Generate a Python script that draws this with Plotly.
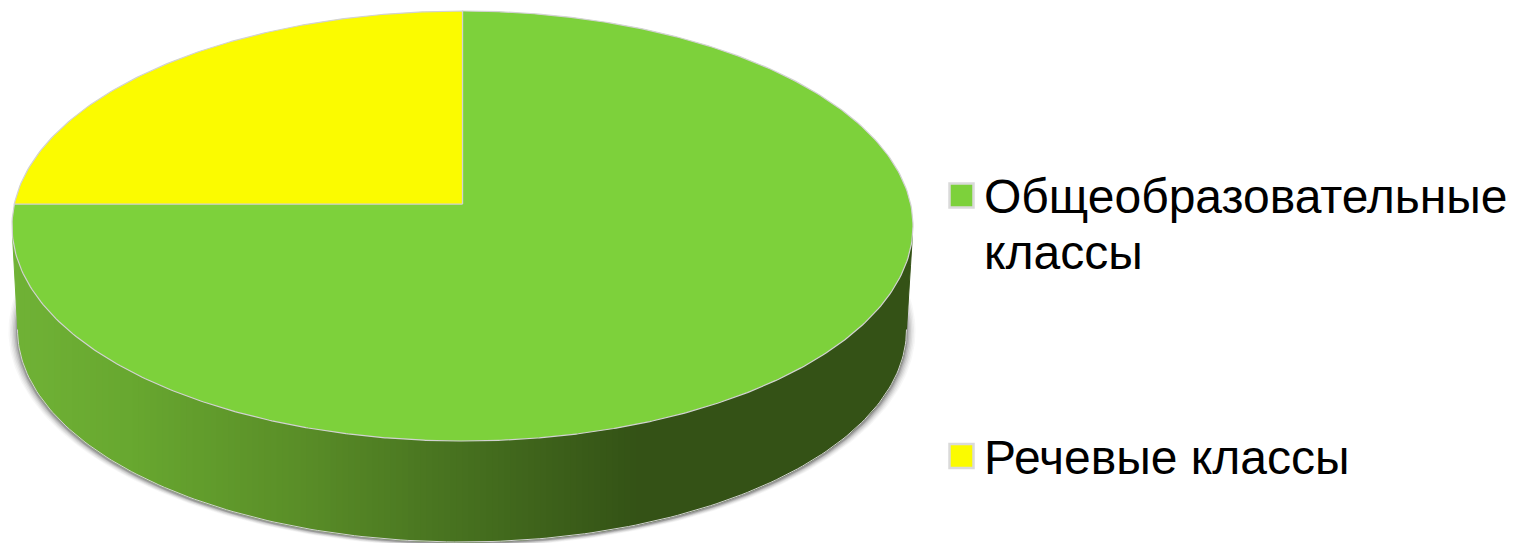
import numpy as np
import plotly.graph_objects as go

categories = ["Общеобразовательные<br>классы", "Речевые классы"]
shares = [75, 25]

COLORS = ["#7DD13B", "#FBFB00"]
EDGE = "#D2D2D2"
W, H = 1514, 543
CX, CY, A, B = 462.5, 226.0, 450.5, 215.0
APEX_Y = 204.0
BX, BY, BA, BB = 462.0, 329.5, 444.5, 212.5
LEG_X, LEG_Y = 961.5, [195.5, 456.0]
TXT_X = 984
TXT_Y = [[196, 252], [457]]
SIDE_STOPS = [(18, (112, 178, 54)), (130, (104, 168, 48)), (300, (90, 142, 40)),
              (450, (72, 115, 32)), (640, (52, 82, 22)), (910, (52, 82, 22))]


def ray(theta):
    """Edge point of the tilted disc for a clockwise angle from twelve o'clock."""
    dx, dy = np.sin(theta), -np.cos(theta)
    oy = (APEX_Y - CY) / B
    ux, uy = dx / A, dy / B
    a = ux * ux + uy * uy
    b = 2 * oy * uy
    c = oy * oy - 1
    t = (-b + np.sqrt(b * b - 4 * a * c)) / (2 * a)
    return CX + t * dx, APEX_Y + t * dy


def lower(x, cx, cy, a, b):
    return cy + b * np.sqrt(np.clip(1 - ((x - cx) / a) ** 2, 0, 1))


def wall_bottom(xs):
    """Lower rim of the wall; the outer ends run straight up to the top disc."""
    ys = lower(xs, BX, BY, BA, BB)
    left, right = BX - BA, BX + BA
    ys = np.where(xs < left, BY - (left - xs) / (left - (CX - A)) * (BY - CY), ys)
    ys = np.where(xs > right, BY - (xs - right) / ((CX + A) - right) * (BY - CY), ys)
    return ys


fig = go.Figure()

# soft drop shadow
for grow, alpha in [(9, .04), (7.5, .06), (6, .08), (4.5, .10), (3, .15), (1.5, .25)]:
    t = np.linspace(0, 2 * np.pi, 361)
    fig.add_trace(go.Scatter(x=BX + (BA + grow) * np.cos(t), y=BY + 1.5 + (BB + grow * .4) * np.sin(t),
                             mode="lines", fill="toself", line=dict(width=0),
                             fillcolor=f"rgba(60,60,60,{alpha})", hoverinfo="skip", showlegend=False))

# wall
sx = np.array([s[0] for s in SIDE_STOPS], float)
def side_color(x):
    return "rgb(%d,%d,%d)" % tuple(np.interp(x, sx, [s[1][i] for s in SIDE_STOPS]) for i in range(3))

edges = np.r_[np.arange(12.5, 912.5, 6.0), 912.5]
for x0, x1 in zip(edges[:-1], edges[1:]):
    xs = np.linspace(x0, x1, 4)
    top = lower(xs, CX, CY, A, B) - 4
    bot = wall_bottom(xs)
    col = side_color((x0 + x1) / 2)
    fig.add_trace(go.Scatter(x=np.r_[xs, xs[::-1]], y=np.r_[top, bot[::-1]], mode="lines", fill="toself",
                             line=dict(width=1, color=col), fillcolor=col, hoverinfo="skip", showlegend=False))
t = np.linspace(0, np.pi, 181)
fig.add_trace(go.Scatter(x=BX + BA * np.cos(t), y=BY + BB * np.sin(t), mode="lines",
                         line=dict(width=1, color=EDGE), hoverinfo="skip", showlegend=False))

# slices, from the values
start = 0.0
total = sum(shares)
for name, value, color in zip(categories, shares, COLORS):
    sweep = value / total * 2 * np.pi
    th = np.linspace(start, start + sweep, max(int(value * 8), 40))
    px, py = ray(th)
    fig.add_trace(go.Scatter(x=np.r_[CX, px, CX], y=np.r_[APEX_Y, py, APEX_Y], mode="lines", fill="toself",
                             line=dict(width=1.2, color=EDGE), fillcolor=color,
                             name=name.replace("<br>", " "), hoverinfo="name", showlegend=False))
    start += sweep

# key
for name, color, ly, tys in zip(categories, COLORS, LEG_Y, TXT_Y):
    fig.add_trace(go.Scatter(x=[LEG_X], y=[ly], mode="markers",
                             marker=dict(symbol="square", size=24, color=color, line=dict(width=2.5, color="#DADADA")),
                             hoverinfo="skip", showlegend=False))
    for line, ty in zip(name.split("<br>"), tys):
        fig.add_annotation(x=TXT_X, y=ty, xref="x", yref="y", text=line, showarrow=False, xanchor="left",
                           yanchor="middle", align="left", xshift=-2,
                           font=dict(family="Liberation Sans, Arial, sans-serif", size=48, color="#000000"))

fig.update_layout(width=W, height=H, margin=dict(l=0, r=0, t=0, b=0), paper_bgcolor="white", plot_bgcolor="white",
                  xaxis=dict(range=[0, W], visible=False, fixedrange=True),
                  yaxis=dict(range=[H, 0], visible=False, fixedrange=True), showlegend=False)
fig.write_html("out.html", config={"displayModeBar": False},
               post_script="document.body.style.margin='0';document.documentElement.style.overflow='hidden';")
